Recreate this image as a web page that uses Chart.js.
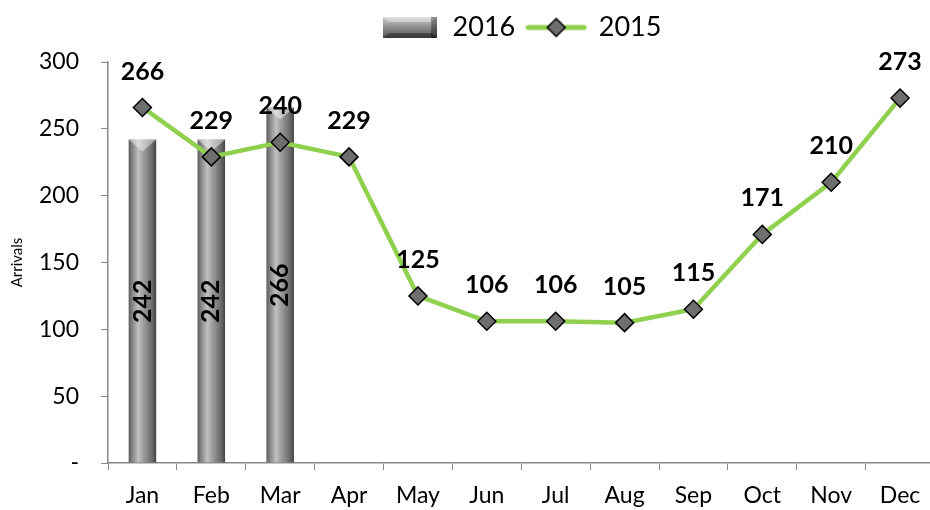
<!DOCTYPE html>
<html>
<head>
	<title>Arrivals</title>
	<script src="https://cdn.jsdelivr.net/npm/chart.js@4.4.1/dist/chart.umd.min.js"></script>
	<style>
		html, body { margin: 0; padding: 0; overflow: hidden; background: #fff; }
		#wrap { width: 945px; height: 510px; }
	</style>
</head>
<body>
	<div id="wrap">
		<canvas id="grafico" width="945" height="510"></canvas>
	</div>

	<script type="text/javascript">
		// datos del grafico
		var meses = ["Jan", "Feb", "Mar", "Apr", "May", "Jun", "Jul", "Aug", "Sep", "Oct", "Nov", "Dec"];
		var llegadas2016 = [242, 242, 266, null, null, null, null, null, null, null, null, null];
		var llegadas2015 = [266, 229, 240, 229, 125, 106, 106, 105, 115, 171, 210, 273];
		var ticksY = [0, 50, 100, 150, 200, 250, 300];

		var fuente = "Lato, 'Open Sans', sans-serif";
		var verde = "#8fd14f";

		// degradado horizontal para las barras
		function degradadoBarra(ctx, x0, x1) {
			var g = ctx.createLinearGradient(x0, 0, x1, 0);
			g.addColorStop(0, "#5c5c5c");
			g.addColorStop(0.15, "#8a8a8a");
			g.addColorStop(0.35, "#c0c0c0");
			g.addColorStop(0.55, "#9a9a9a");
			g.addColorStop(0.85, "#6a6a6a");
			g.addColorStop(1, "#444444");
			return g;
		}

		// iconos de la leyenda
		function iconoBarra() {
			var c = document.createElement("canvas");
			c.width = 54; c.height = 21;
			var x = c.getContext("2d");
			var g = x.createLinearGradient(0, 0, 0, 21);
			g.addColorStop(0, "#d0d0d0");
			g.addColorStop(0.5, "#8c8c8c");
			g.addColorStop(1, "#555");
			x.fillStyle = g;
			x.fillRect(0, 0, 54, 21);
			x.fillStyle = "rgba(255,255,255,0.35)";
			x.beginPath(); x.moveTo(0, 0); x.lineTo(54, 0); x.lineTo(48, 5); x.lineTo(6, 5); x.closePath(); x.fill();
			x.fillStyle = "rgba(0,0,0,0.35)";
			x.beginPath(); x.moveTo(0, 21); x.lineTo(54, 21); x.lineTo(48, 16); x.lineTo(6, 16); x.closePath(); x.fill();
			x.fillRect(48, 0, 6, 21);
			return c;
		}
		function iconoLinea() {
			var c = document.createElement("canvas");
			c.width = 62; c.height = 22;
			var x = c.getContext("2d");
			x.strokeStyle = verde; x.lineWidth = 5; x.lineCap = "round";
			x.beginPath(); x.moveTo(3, 11); x.lineTo(59, 11); x.stroke();
			x.fillStyle = "#6e6e6e"; x.strokeStyle = "#000"; x.lineWidth = 1.5;
			x.beginPath(); x.moveTo(31, 2); x.lineTo(40, 11); x.lineTo(31, 20); x.lineTo(22, 11); x.closePath();
			x.fill(); x.stroke();
			return c;
		}
		var iconos = [iconoBarra(), iconoLinea()];

		// bisel claro arriba de cada barra + etiquetas de valores
		var etiquetas = {
			id: "etiquetas",
			beforeInit: function (chart) {
				// mas espacio debajo de la leyenda
				var fitOriginal = chart.legend.fit;
				chart.legend.fit = function () {
					fitOriginal.call(this);
					this.height += 11;
				};
			},
			afterDatasetDraw: function (chart, args) {
				if (args.index !== 0) return;
				var ctx = chart.ctx;
				ctx.save();
				args.meta.data.forEach(function (bar, i) {
					if (llegadas2016[i] == null) return;
					var w = bar.width, x0 = bar.x - w / 2, t = bar.y;
					ctx.fillStyle = "rgba(255,255,255,0.45)";
					ctx.beginPath();
					ctx.moveTo(x0, t); ctx.lineTo(x0 + w, t); ctx.lineTo(bar.x, t + 12); ctx.closePath();
					ctx.fill();
				});
				ctx.restore();
			},
			afterDatasetsDraw: function (chart) {
				var ctx = chart.ctx;
				var y = chart.scales.y;
				ctx.save();
				ctx.fillStyle = "#000";
				ctx.font = "bold 25px " + fuente;
				ctx.textAlign = "center";
				ctx.textBaseline = "middle";

				chart.getDatasetMeta(0).data.forEach(function (bar, i) {
					var v = llegadas2016[i];
					if (v == null) return;
					var medio = (y.getPixelForValue(0) + y.getPixelForValue(v)) / 2;
					ctx.save();
					ctx.translate(bar.x, medio);
					ctx.rotate(-Math.PI / 2);
					ctx.fillText(String(v), 0, 0);
					ctx.restore();
				});

				chart.getDatasetMeta(1).data.forEach(function (pt, i) {
					ctx.fillText(String(llegadas2015[i]), pt.x, pt.y - 36);
				});
				ctx.restore();
			}
		};

		var canvas = document.getElementById("grafico").getContext("2d");
		window.grafico = new Chart(canvas, {
			type: "bar",
			data: {
				labels: meses,
				datasets: [{
					label: "2016",
					data: llegadas2016,
					order: 2,
					barPercentage: 0.4,
					categoryPercentage: 1,
					borderWidth: 0,
					backgroundColor: function (c) {
						var ch = c.chart;
						if (!ch.chartArea) return "#888";
						var sx = ch.scales.x;
						var cx = sx.getPixelForValue(c.dataIndex);
						var w = sx.width / meses.length * 0.4;
						return degradadoBarra(ch.ctx, cx - w / 2, cx + w / 2);
					}
				}, {
					type: "line",
					label: "2015",
					data: llegadas2015,
					order: 1,
					borderColor: verde,
					borderWidth: 4.5,
					tension: 0,
					pointStyle: "rectRot",
					pointRadius: 9,
					pointHoverRadius: 9,
					pointBackgroundColor: "#6e6e6e",
					pointBorderColor: "#000",
					pointBorderWidth: 1.5
				}]
			},
			options: {
				responsive: false,
				animation: false,
				layout: { padding: { top: 2, right: 5, left: 0, bottom: 0 } },
				plugins: {
					tooltip: { enabled: false },
					legend: {
						position: "top",
						fullSize: false,
						labels: {
							usePointStyle: true,
							pointStyleWidth: 58,
							boxHeight: 22,
							padding: 12,
							color: "#000",
							font: { family: fuente, size: 27 },
							sort: function (a, b) { return a.datasetIndex - b.datasetIndex; },
							generateLabels: function (chart) {
								var items = Chart.defaults.plugins.legend.labels.generateLabels(chart);
								items.forEach(function (it) { it.pointStyle = iconos[it.datasetIndex]; });
								return items;
							}
						}
					}
				},
				scales: {
					x: {
						offset: true,
						afterFit: function (s) { s.height = 47; },
						grid: { display: true, drawOnChartArea: false, offset: true, tickLength: 7, color: "#888" },
						border: { color: "#888", width: 1.5 },
						ticks: { color: "#000", padding: 12, font: { family: fuente, size: 23 } }
					},
					y: {
						min: 0,
						max: 300,
						afterBuildTicks: function (s) { s.ticks = ticksY.map(function (v) { return { value: v }; }); },
						afterFit: function (s) { s.width = 108; },
						grid: { display: true, drawOnChartArea: false, tickLength: 7, color: "#888" },
						border: { color: "#888", width: 1.5 },
						ticks: {
							color: "#000",
							padding: 22,
							font: { family: fuente, size: 23 },
							callback: function (v) { return v === 0 ? "-" : v; }
						},
						title: { display: true, text: "Arrivals", color: "#000", padding: { top: 8, bottom: 0 }, font: { family: fuente, size: 15 } }
					}
				}
			},
			plugins: [etiquetas]
		});
	</script>
</body>
</html>
